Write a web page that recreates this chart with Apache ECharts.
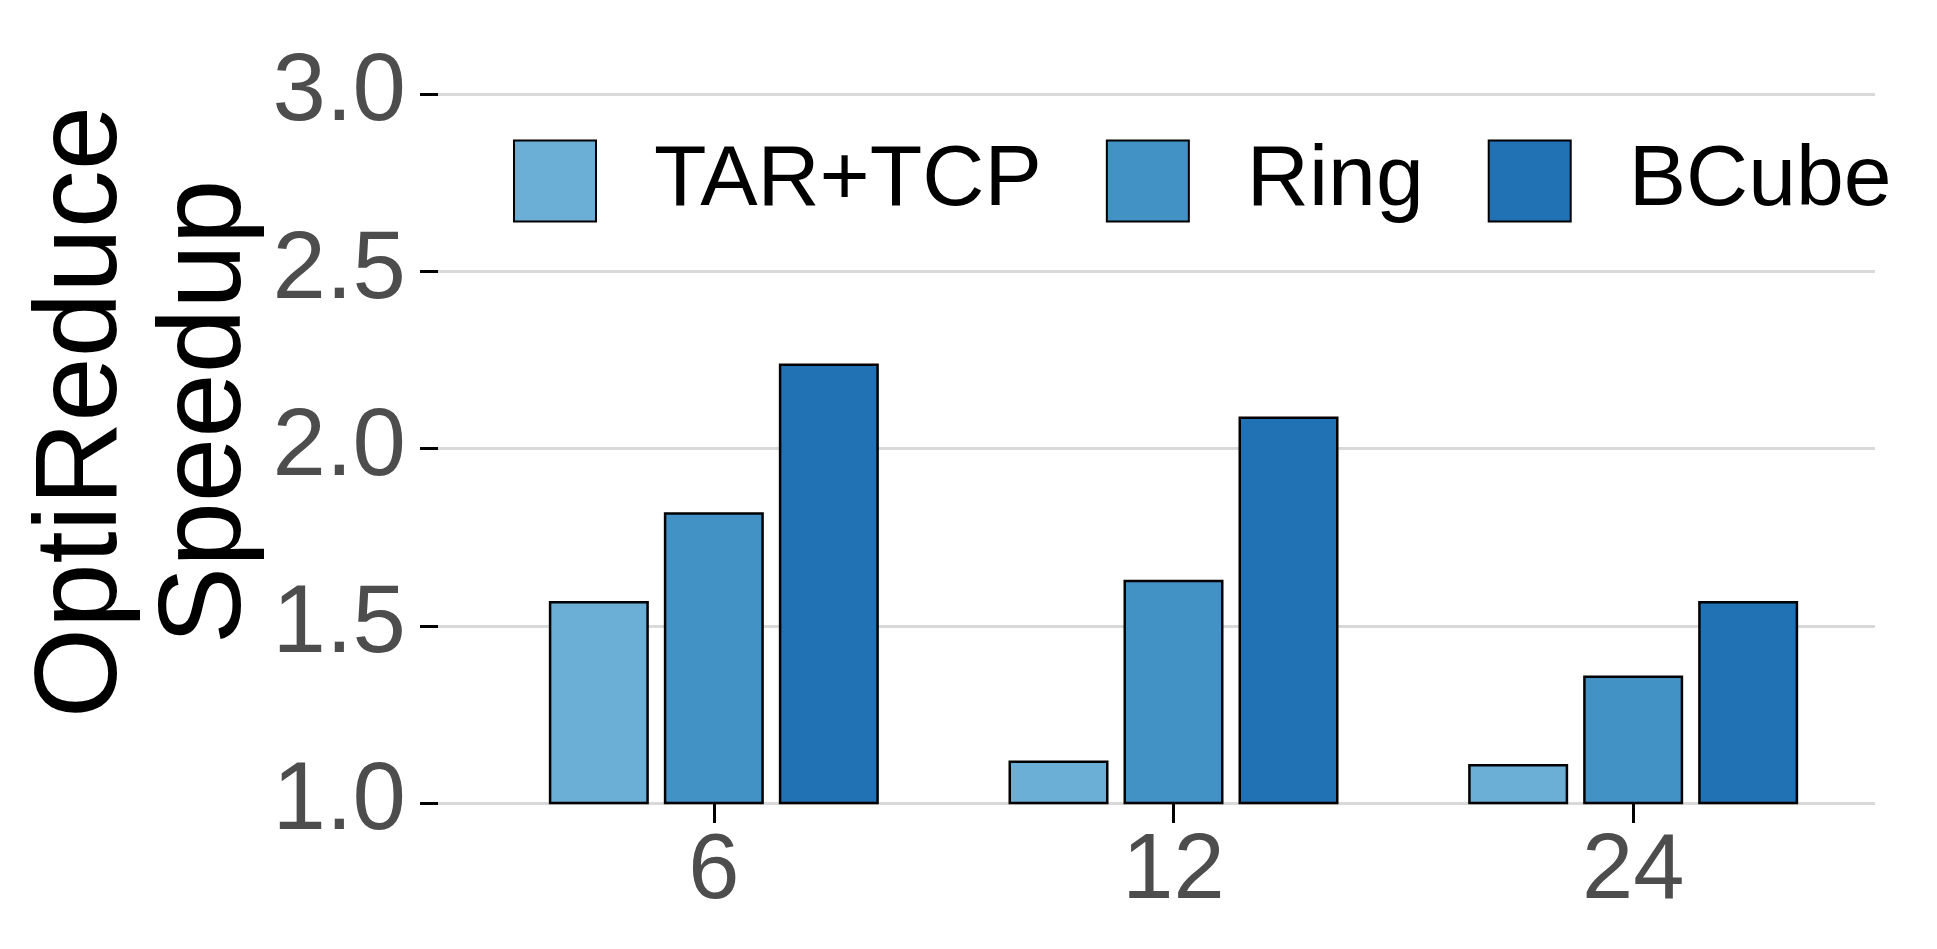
<!DOCTYPE html>
<html>
<head>
<meta charset="utf-8">
<script src="https://cdn.jsdelivr.net/npm/echarts@6/dist/echarts.min.js"></script>
<style>
  html, body { margin: 0; padding: 0; background: #fff; }
  #chart { width: 1937px; height: 949px; }
</style>
</head>
<body>
<div id="chart"></div>
<script>
// data
var workers = ['6', '12', '24'];
var seriesNames = ['TAR+TCP', 'Ring', 'BCube'];
var tarTcp = [1.57, 1.12, 1.11];
var ring = [1.82, 1.63, 1.36];
var bcube = [2.24, 2.09, 1.57];
var yTicks = [1.0, 1.5, 2.0, 2.5, 3.0];

var colors = ['#6baed6', '#4292c6', '#2171b5'];
var font = 'Liberation Sans, Arial, Helvetica, sans-serif';

var chart = echarts.init(document.getElementById('chart'));

function barSeries(name, data, idx) {
  return {
    name: name,
    type: 'bar',
    xAxisIndex: 1,
    yAxisIndex: 1,
    data: data,
    barWidth: 100,
    barGap: '15%',
    itemStyle: {
      color: colors[idx],
      borderColor: '#000',
      borderWidth: 2.5
    }
  };
}

chart.setOption({
  animation: false,
  backgroundColor: '#fff',
  grid: [
    // background: gridlines + y ticks
    { left: 438, right: 62, top: 94, bottom: 146 },
    // bars
    { left: 484, right: 74, top: 94, bottom: 146 }
  ],
  legend: {
    left: 508,
    top: 133,
    icon: 'rect',
    itemWidth: 82,
    itemHeight: 81,
    itemGap: 64,
    data: seriesNames,
    textStyle: {
      fontFamily: font,
      fontSize: 86,
      color: '#000',
      padding: [0, 0, 0, 53]
    }
  },
  graphic: [{
    type: 'text',
    x: 146,
    y: 412,
    rotation: Math.PI / 2,
    style: {
      text: 'OptiReduce\nSpeedup',
      fontFamily: font,
      fontSize: 116,
      lineHeight: 124,
      fill: '#000',
      align: 'center',
      verticalAlign: 'middle'
    }
  }],
  xAxis: [
    { gridIndex: 0, type: 'value', min: 0, max: 1, show: false },
    {
      gridIndex: 1,
      type: 'category',
      data: workers,
      axisLine: { show: false },
      axisTick: { show: true, alignWithLabel: true, length: 20, lineStyle: { color: '#000', width: 3 } },
      axisLabel: { margin: 24, fontFamily: font, fontSize: 92, color: '#4d4d4d' },
      splitLine: { show: false }
    }
  ],
  yAxis: [
    {
      gridIndex: 0,
      type: 'value',
      min: 1,
      max: 3,
      interval: 0.5,
      axisLine: { show: false },
      axisTick: { show: true, length: 18, lineStyle: { color: '#000', width: 3 } },
      axisLabel: {
        margin: 32,
        fontFamily: font,
        fontSize: 96,
        color: '#4d4d4d',
        formatter: function (v) { return v.toFixed(1); }
      },
      splitLine: { show: true, lineStyle: { color: '#d9d9d9', width: 3 } }
    },
    { gridIndex: 1, type: 'value', min: 1, max: 3, show: false }
  ],
  series: [
    barSeries(seriesNames[0], tarTcp, 0),
    barSeries(seriesNames[1], ring, 1),
    barSeries(seriesNames[2], bcube, 2)
  ]
});
</script>
</body>
</html>
